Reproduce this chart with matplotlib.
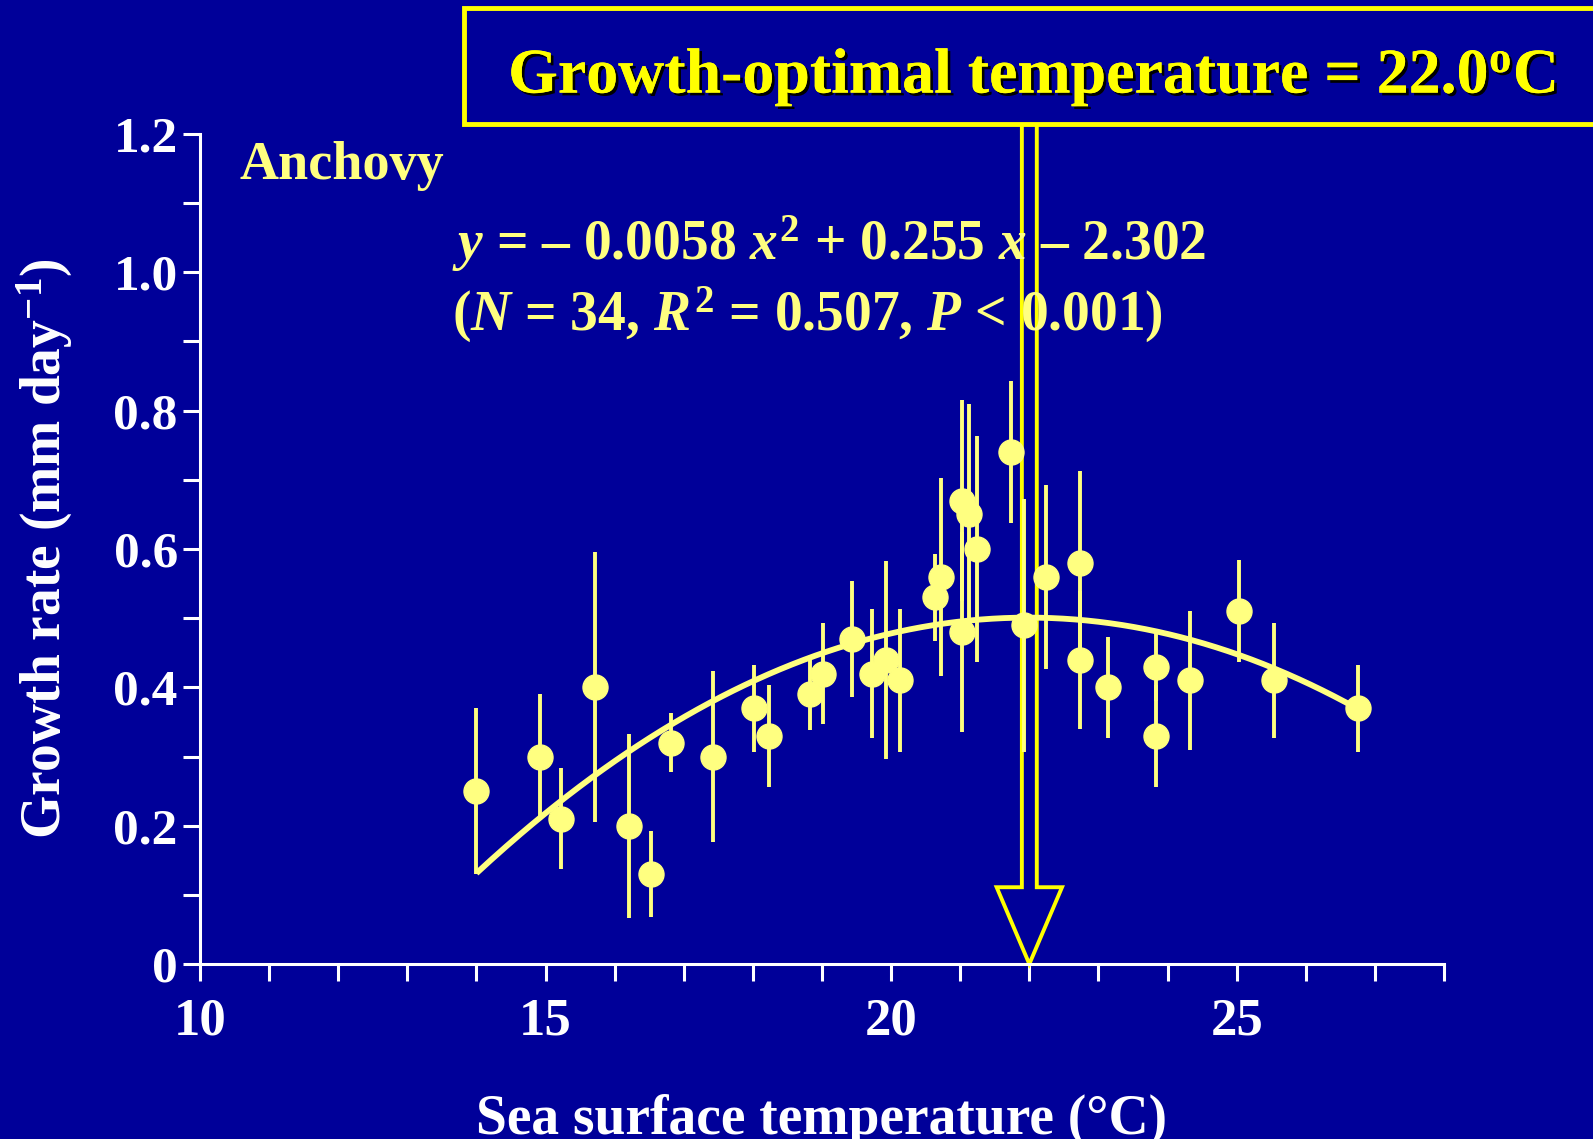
import numpy as np
import matplotlib
matplotlib.use("Agg")
import matplotlib.pyplot as plt
import matplotlib.patheffects as pe
from matplotlib.patches import Rectangle, Polygon
from matplotlib.ticker import FixedLocator, FuncFormatter

# ---- data -------------------------------------------------------------
temps = [14.0, 14.92, 15.22, 15.71, 16.21, 16.52, 16.82, 17.42, 18.02, 18.23,
         18.83, 19.02, 19.43, 19.72, 19.93, 20.13, 20.64, 20.72, 21.03, 21.03,
         21.13, 21.24, 21.74, 21.93, 22.24, 22.74, 22.74, 23.14, 23.84, 23.84,
         24.33, 25.04, 25.54, 26.75]
growth = [0.25, 0.30, 0.21, 0.40, 0.20, 0.13, 0.32, 0.30, 0.37, 0.33,
          0.39, 0.42, 0.47, 0.42, 0.44, 0.41, 0.53, 0.56, 0.67, 0.48,
          0.65, 0.60, 0.74, 0.49, 0.56, 0.58, 0.44, 0.40, 0.43, 0.33,
          0.41, 0.51, 0.41, 0.37]
growth_err = [0.12, 0.09, 0.073, 0.195, 0.133, 0.062, 0.043, 0.123, 0.063, 0.074,
              0.052, 0.073, 0.084, 0.093, 0.143, 0.103, 0.063, 0.143, 0.145, 0.144,
              0.16, 0.163, 0.103, 0.183, 0.133, 0.133, 0.10, 0.073, 0.05, 0.074,
              0.10, 0.074, 0.083, 0.063]
fit_coef = [-0.0058, 0.255, -2.302]   # quadratic fit, highest power first
t_opt = 22.0

x_major = [10, 15, 20, 25]
y_major = [0, 0.2, 0.4, 0.6, 0.8, 1.0, 1.2]
y_labels = ["0", "0.2", "0.4", "0.6", "0.8", "1.0", "1.2"]

# ---- style ------------------------------------------------------------
BG = "#000099"
PALE = "#FFFF80"
BRIGHT = "#FFFF00"
W, H = 1593, 1139

plt.rcParams.update({
    "font.family": ["Liberation Serif", "DejaVu Serif"],
    "font.weight": "bold",
    "mathtext.fontset": "custom",
    "mathtext.rm": "Liberation Serif:bold",
    "mathtext.it": "Liberation Serif:italic:bold",
    "mathtext.bf": "Liberation Serif:bold",
})

fig = plt.figure(figsize=(W / 100, H / 100), dpi=100, facecolor=BG)


def fx(px):
    return px / W


def fy(py):
    return 1 - py / H


ax = fig.add_axes([fx(200), fy(964), fx(1444) - fx(200), fy(134) - fy(964)])
ax.set_facecolor(BG)
ax.set_xlim(10, 28)
ax.set_ylim(0, 1.2)

for s in ("top", "right"):
    ax.spines[s].set_visible(False)
for s in ("left", "bottom"):
    ax.spines[s].set_color("white")
    ax.spines[s].set_linewidth(2.2)

ax.xaxis.set_major_locator(FixedLocator(np.arange(10, 29, 1)))
ax.xaxis.set_major_formatter(FuncFormatter(
    lambda v, p: f"{int(round(v))}" if int(round(v)) in x_major else ""))
ax.yaxis.set_major_locator(FixedLocator(np.round(np.arange(0, 1.21, 0.1), 1)))
ylab = dict(zip(y_major, y_labels))
ax.yaxis.set_major_formatter(FuncFormatter(
    lambda v, p: ylab.get(round(v, 1), "")))
ax.tick_params(axis="both", colors="white", width=2.2, length=12,
               direction="out")
ax.tick_params(axis="x", labelsize=38, pad=12)
ax.tick_params(axis="y", labelsize=37, pad=4)
for lbl in ax.get_xticklabels() + ax.get_yticklabels():
    lbl.set_fontweight("bold")

# arrow marking the growth-optimal temperature (hollow outline)
stem_hw, head_hw, head_h, stem_top = 0.108, 0.473, 0.111, 1.22
arrow_pts = [(t_opt - stem_hw, stem_top), (t_opt - stem_hw, head_h),
             (t_opt - head_hw, head_h), (t_opt, 0.0),
             (t_opt + head_hw, head_h), (t_opt + stem_hw, head_h),
             (t_opt + stem_hw, stem_top)]
ax.add_patch(Polygon(arrow_pts, closed=False, fill=False, edgecolor=BRIGHT,
                     linewidth=2.8, joinstyle="miter", clip_on=False, zorder=2))

# fitted curve
xs = np.linspace(min(temps), max(temps), 300)
ax.plot(xs, np.polyval(fit_coef, xs), color=PALE, lw=4.2,
        solid_capstyle="butt", zorder=3)

# observations with error bars
ax.errorbar(temps, growth, yerr=growth_err, fmt="o", ms=18, color=PALE,
            mec=PALE, elinewidth=2.8, capsize=0, zorder=4)

ax.set_xlabel("Sea surface temperature (°C)", fontsize=40, color="white",
              fontweight="bold", labelpad=35)
ax.set_ylabel("Growth rate (mm day$^{-1}$)", fontsize=40, color="white",
              fontweight="bold", labelpad=28)

# species and fit annotations
fig.text(fx(239), fy(166), "Anchovy", fontsize=39, color=PALE,
         fontweight="bold", ha="left", va="center")
fig.text(fx(452), fy(244),
         r"$\mathit{y}$ = – 0.0058 $\mathit{x}^{2}$ + 0.255 $\mathit{x}$ – 2.302",
         fontsize=40, color=PALE, fontweight="bold", ha="left", va="center")
fig.text(fx(452), fy(315),
         r"($\mathit{N}$ = 34, $\mathit{R}^{2}$ = 0.507, $\mathit{P}$ < 0.001)",
         fontsize=40, color=PALE, fontweight="bold", ha="left", va="center")

# headline box
fig.patches.append(Rectangle((fx(464), fy(124)), fx(1700) - fx(464),
                             fy(8) - fy(124), transform=fig.transFigure,
                             facecolor=BG, edgecolor=BRIGHT, linewidth=3.5,
                             zorder=5))
fig.text(fx(1032), fy(93), r"Growth-optimal temperature = 22.0$^{\rm o}$C",
         fontsize=46, color=BRIGHT, fontweight="bold", ha="center",
         va="baseline", zorder=6,
         path_effects=[pe.withSimplePatchShadow(offset=(2, -2),
                                                shadow_rgbFace="black",
                                                alpha=1.0),
                       pe.Normal()])

fig.savefig("out.png", dpi=100, facecolor=BG)
